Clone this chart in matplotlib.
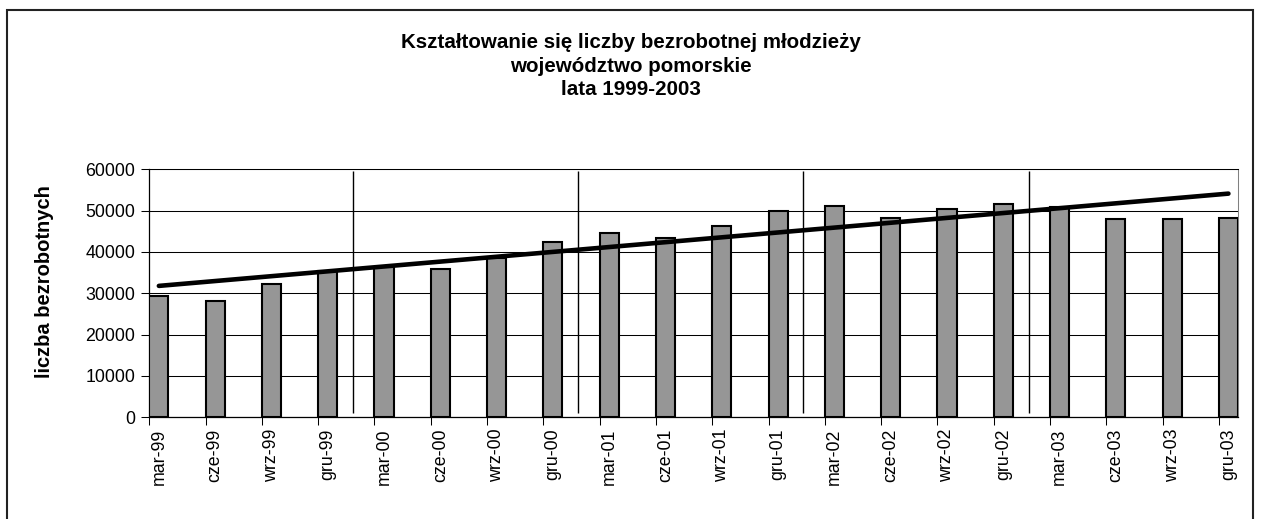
import matplotlib.pyplot as plt
from matplotlib.patches import Rectangle
import numpy as np

plt.rcParams['font.family'] = ['Liberation Sans', 'DejaVu Sans']

# dane
okresy = ['mar-99', 'cze-99', 'wrz-99', 'gru-99',
          'mar-00', 'cze-00', 'wrz-00', 'gru-00',
          'mar-01', 'cze-01', 'wrz-01', 'gru-01',
          'mar-02', 'cze-02', 'wrz-02', 'gru-02',
          'mar-03', 'cze-03', 'wrz-03', 'gru-03']
bezrobotni = [29300, 28100, 32200, 35500,
              36400, 35900, 38600, 42400,
              44500, 43500, 46200, 50000,
              51200, 48200, 50300, 51700,
              50900, 48000, 48000, 48200]
y_ticks = [0, 10000, 20000, 30000, 40000, 50000, 60000]
tytul = 'Kształtowanie się liczby bezrobotnej młodzieży\nwojewództwo pomorskie\nlata 1999-2003'
opis_y = 'liczba bezrobotnych'

W, H = 1261, 519
fig = plt.figure(figsize=(W / 100, H / 100), dpi=100)
ax = fig.add_axes([149.3 / W, 1 - 417.3 / H, (1238 - 149.3) / W, (417.3 - 169.3) / H])

x = np.arange(len(okresy))
bw = 0.34
ax.bar(x, bezrobotni, width=bw, align='edge', color='#969696',
       edgecolor='black', linewidth=1.5, zorder=3)

# linia trendu (liniowa)
a, b = np.polyfit(x, bezrobotni, 1)
ax.plot(x + bw / 2, a * x + b, color='black', linewidth=3.3,
        solid_capstyle='round', zorder=4)

# pionowe linie oddzielajace lata
ax.vlines(np.arange(3, len(okresy) - 1, 4) + 0.62, 1100, 59700,
          color='black', linewidth=1.0, zorder=2)

ax.set_xlim(0, len(okresy) - 1 + bw)
ax.set_ylim(0, 60000)
ax.set_yticks(y_ticks)
ax.set_yticklabels([str(v) for v in y_ticks], fontsize=12.8)
ax.yaxis.grid(True, color='black', linewidth=0.75, zorder=1)
ax.set_axisbelow(True)

ax.set_xticks(x)
ax.set_xticklabels([])
ax.set_xticks(x + bw / 2, minor=True)
ax.set_xticklabels(okresy, minor=True, rotation=90, fontsize=12.8)
ax.tick_params(axis='x', which='major', direction='out', length=6, width=0.75)
ax.tick_params(axis='x', which='minor', length=0, pad=8)
ax.tick_params(axis='y', direction='out', length=6, width=0.75, pad=4)

for s in ['left', 'bottom']:
    ax.spines[s].set_linewidth(0.9)
    ax.spines[s].set_color('black')
ax.spines['top'].set_linewidth(0.75)
ax.spines['right'].set_color('#808080')
ax.spines['right'].set_linewidth(0.75)

fig.text(45 / W, 1 - 282 / H, opis_y, rotation=90, ha='center', va='center',
         fontsize=14.5, fontweight='bold')
fig.text(0.5, 1 - 66 / H, tytul, ha='center', va='center',
         fontsize=14.8, fontweight='bold', linespacing=1.3)

# ramka wykresu
fig.add_artist(Rectangle((7 / W, -0.05), (1253 - 7) / W, 1.05 - 10 / H,
                         transform=fig.transFigure, fill=False,
                         edgecolor='#222222', linewidth=1.5))

fig.savefig('out.png', dpi=100)
